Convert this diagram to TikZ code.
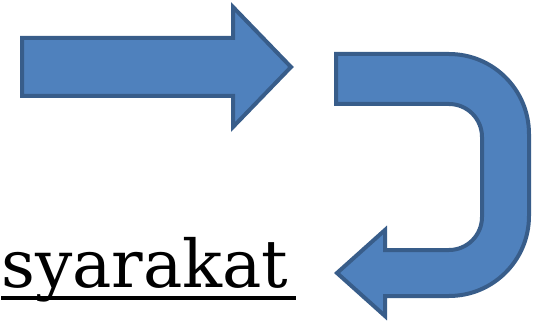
\documentclass[tikz,border=0pt]{standalone}
\usepackage{fontspec}
\usepackage{tikz}
\newfontfamily\wordfont{DejaVu Serif}
\definecolor{arrowfill}{HTML}{4F81BD}
\definecolor{arrowline}{HTML}{385D8A}
\tikzset{
  blockarrow/.style = {fill = arrowfill, draw = arrowline, line width = 4pt, line join = miter},
  underline/.style = {line width = 3.5pt}
}

\begin{document}
\begin{tikzpicture}[x = 1pt, y = -1pt]
	\useasboundingbox (0,0) rectangle (539,321);

	\begin{scope}
		\draw [blockarrow] (22,38) -- (233,38) -- (233,7) -- (291,67) -- (233,127) -- (233,96) -- (22,96) -- cycle;
	\end{scope}

	\begin{scope}
		\draw [blockarrow] (336,54) -- (449,54) arc [start angle = -90, end angle = 0, radius = 80]
			-- (529,216) arc [start angle = 0, end angle = 90, radius = 80]
			-- (385,296) -- (385,316) -- (337,273) -- (385,230) -- (385,250)
			-- (449,250) arc [start angle = 90, end angle = 0, radius = 33]
			-- (482,137) arc [start angle = 0, end angle = -90, radius = 33]
			-- (336,104) -- cycle;
	\end{scope}

	\begin{scope}
		\node [anchor = base west, inner sep = 0pt, font = \wordfont\fontsize{66}{72}\selectfont] (word) at (1,287) {syarakat};
		\draw [underline] ([yshift = -11pt]word.base west) -- ([yshift = -11pt, xshift = 7pt]word.base east);
	\end{scope}
\end{tikzpicture}
\end{document}
